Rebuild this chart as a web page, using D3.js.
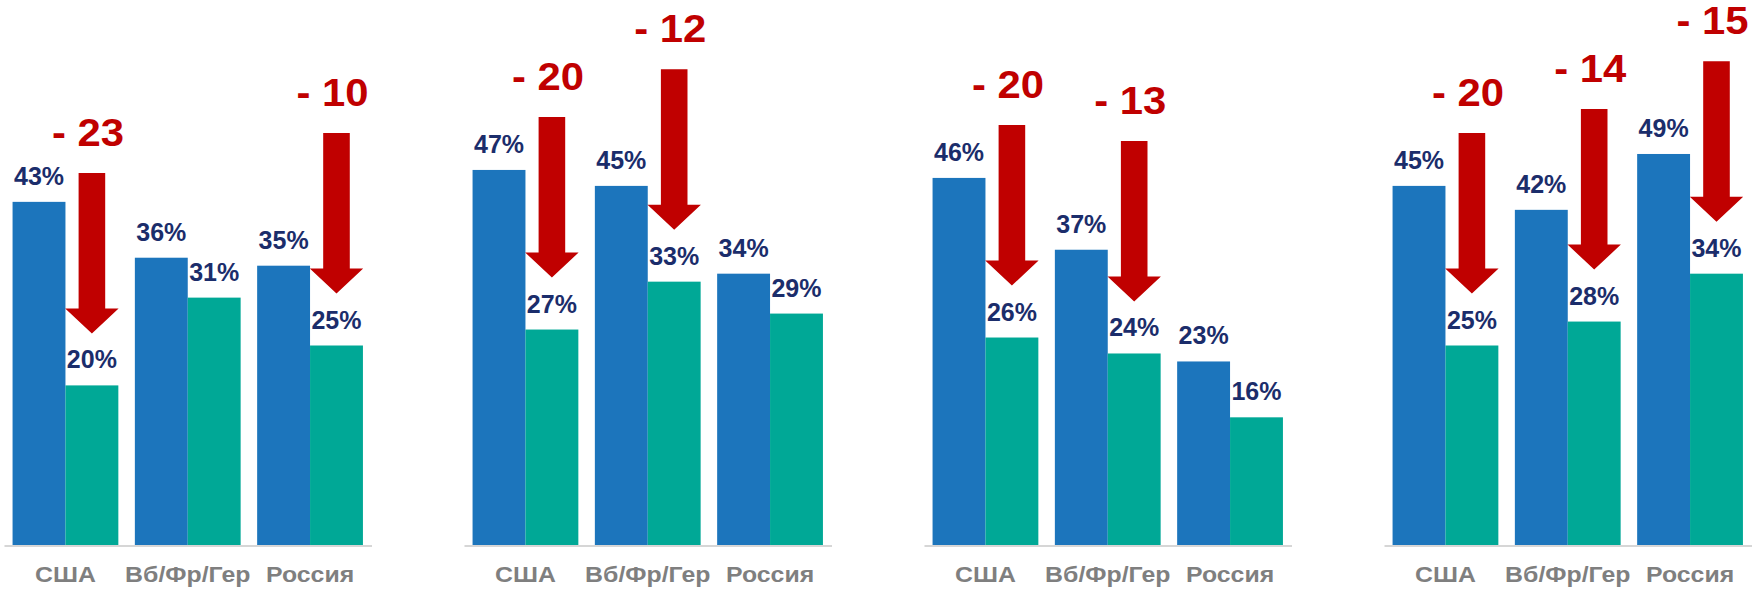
<!DOCTYPE html>
<html><head><meta charset="utf-8">
<script src="https://cdn.jsdelivr.net/npm/d3@7"></script>
<style>body{margin:0;background:#fff}svg{display:block}</style>
</head><body><svg id="c" width="1758" height="590"></svg>
<script>
const categories = ["США", "Вб/Фр/Гер", "Россия"];
const panels = ["p1", "p2", "p3", "p4"];
const series = ["before", "after"];
const beforeValues = [[43, 36, 35], [47, 45, 34], [46, 37, 23], [45, 42, 49]];
const afterValues = [[20, 31, 25], [27, 33, 29], [26, 24, 16], [25, 28, 34]];
const dropLabels = [[-23, null, -10], [-20, -12, null], [-20, -13, null], [-20, -14, -15]];

const colors = { before: "#1C75BC", after: "#00A896" };
const svg = d3.select("#c");

const px = d3.scaleBand().domain(panels).range([4, 1751.5]).paddingInner(0.2011).paddingOuter(0);
const x = d3.scaleBand().domain(categories).range([0, px.bandwidth()]).paddingInner(0.135).paddingOuter(0.07);
const xs = d3.scaleBand().domain(series).range([0, x.bandwidth()]).padding(0);
const y = d3.scaleLinear().domain([0, 60]).range([545, 66.2]);

panels.forEach((p, pi) => {
  const g = svg.append("g").attr("transform", `translate(${px(p)},0)`);
  const rows = categories.map((c, ci) => ({
    cat: c, before: beforeValues[pi][ci], after: afterValues[pi][ci], drop: dropLabels[pi][ci]
  }));

  // axis
  const ax = g.append("g").attr("transform", `translate(0,${y(0) + 0.5})`)
    .call(d3.axisBottom(x).tickSizeInner(0).tickSizeOuter(0).tickPadding(21));
  ax.select(".domain").attr("stroke", "#C8C8C8").attr("stroke-width", 1.6);
  ax.selectAll("text").attr("font-family", "'Liberation Sans', Arial, sans-serif")
    .attr("font-weight", "bold").attr("font-size", 22).attr("fill", "#7F7F7F")
    .attr("transform", "scale(1.13,1)");

  // bars
  const cg = g.selectAll("g.cat").data(rows).join("g").attr("class", "cat")
    .attr("transform", d => `translate(${x(d.cat)},0)`);
  series.forEach(s => {
    cg.append("rect")
      .attr("x", xs(s)).attr("width", xs.bandwidth())
      .attr("y", d => y(d[s])).attr("height", d => y(0) - y(d[s]))
      .attr("fill", colors[s]);
    cg.append("text")
      .attr("x", xs(s) + xs.bandwidth() / 2)
      .attr("y", d => y(d[s]) - 17)
      .attr("text-anchor", "middle")
      .attr("font-family", "'Liberation Sans', Arial, sans-serif")
      .attr("font-weight", "bold").attr("font-size", 25)
      .attr("fill", "#1B2D6B")
      .text(d => d[s] + "%");
  });

  // arrows
  const ar = cg.filter(d => d.drop !== null);
  const hw = 13.3, hh = 26.7, headH = 25, len = 160.5, gap = 52;
  ar.append("path")
    .attr("fill", "#C00000")
    .attr("d", d => {
      const cx = xs("after") + xs.bandwidth() / 2;
      const tip = y(d.after) - gap, top = tip - len, hs = tip - headH;
      return `M${cx - hw},${top}L${cx + hw},${top}L${cx + hw},${hs}L${cx + hh},${hs}L${cx},${tip}L${cx - hh},${hs}L${cx - hw},${hs}Z`;
    });
  ar.append("text")
    .attr("transform", d => {
      const cx = xs("after") + xs.bandwidth() / 2;
      const top = y(d.after) - gap - len;
      return `translate(${cx - 4},${top - 27}) scale(1.1,1)`;
    })
    .attr("text-anchor", "middle")
    .attr("font-family", "'Liberation Sans', Arial, sans-serif")
    .attr("font-weight", "bold").attr("font-size", 38)
    .attr("fill", "#C00000")
    .text(d => "- " + Math.abs(d.drop));
});
</script></body></html>
